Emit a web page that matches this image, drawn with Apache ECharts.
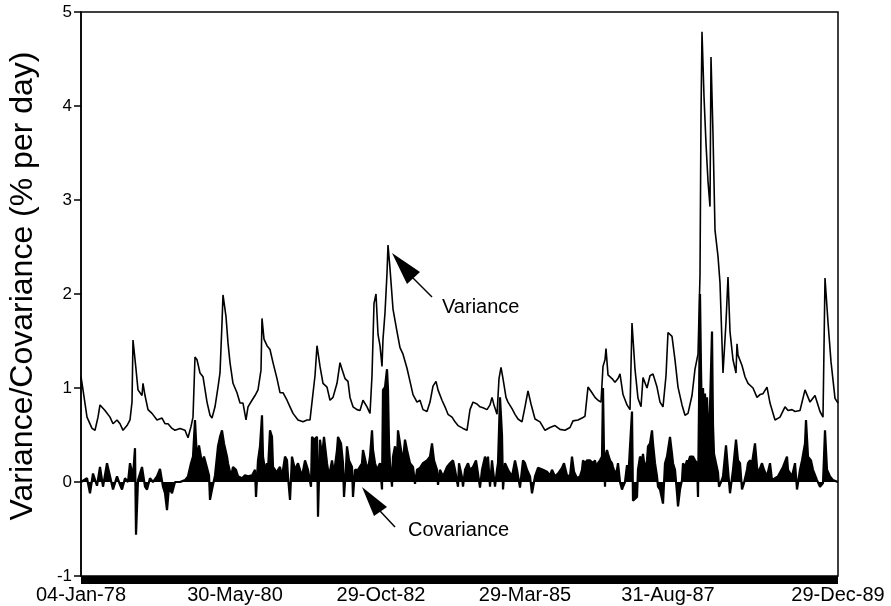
<!DOCTYPE html>
<html>
<head>
<meta charset="utf-8">
<script src="https://cdn.jsdelivr.net/npm/echarts@6/dist/echarts.min.js"></script>
<style>
  html, body { margin: 0; padding: 0; background: #fff; }
  #chart { width: 891px; height: 606px; }
</style>
</head>
<body>
<div id="chart"></div>
<script>
// x values are trading-day counts from 04-Jan-78
var tickDays = [0, 616, 1200, 1776, 2348, 3028];
var tickLabels = ['04-Jan-78', '30-May-80', '29-Oct-82', '29-Mar-85', '31-Aug-87', '29-Dec-89'];

var varianceDays = [0, 8, 24, 44, 56, 68, 76, 96, 116, 128, 144, 156, 168, 184, 196, 204, 208, 220, 228, 244, 248, 256, 268, 284, 304, 324, 336, 348, 364, 376, 396, 416, 428, 440, 448, 456, 464, 476, 488, 504, 516, 524, 536, 548, 556, 564, 568, 580, 588, 596, 608, 624, 636, 648, 660, 668, 684, 696, 708, 720, 724, 732, 744, 756, 768, 784, 796, 808, 824, 836, 848, 868, 888, 904, 916, 924, 936, 944, 956, 968, 984, 996, 1008, 1024, 1036, 1044, 1056, 1068, 1076, 1088, 1104, 1116, 1128, 1144, 1156, 1164, 1172, 1180, 1188, 1196, 1204, 1208, 1216, 1224, 1228, 1236, 1248, 1264, 1276, 1288, 1304, 1316, 1328, 1344, 1356, 1368, 1384, 1396, 1408, 1420, 1428, 1444, 1456, 1468, 1484, 1496, 1508, 1528, 1544, 1556, 1568, 1584, 1596, 1608, 1624, 1636, 1644, 1652, 1664, 1672, 1680, 1688, 1700, 1708, 1724, 1736, 1748, 1764, 1776, 1788, 1800, 1816, 1836, 1856, 1876, 1896, 1916, 1936, 1956, 1968, 1988, 2004, 2016, 2028, 2044, 2056, 2068, 2080, 2088, 2096, 2100, 2108, 2124, 2136, 2148, 2156, 2168, 2184, 2196, 2204, 2216, 2228, 2240, 2248, 2264, 2276, 2288, 2304, 2316, 2328, 2340, 2348, 2364, 2376, 2388, 2404, 2416, 2428, 2444, 2456, 2468, 2476, 2480, 2484, 2492, 2500, 2508, 2516, 2520, 2528, 2536, 2548, 2556, 2568, 2580, 2588, 2596, 2608, 2620, 2624, 2628, 2644, 2656, 2668, 2688, 2704, 2716, 2728, 2744, 2756, 2776, 2796, 2816, 2828, 2844, 2856, 2876, 2896, 2916, 2936, 2956, 2968, 2976, 2988, 3000, 3016, 3028];
var varianceValues = [1.12, 0.98, 0.69, 0.57, 0.55, 0.69, 0.82, 0.76, 0.69, 0.62, 0.66, 0.62, 0.55, 0.60, 0.66, 0.85, 1.51, 1.20, 0.98, 0.92, 1.05, 0.92, 0.77, 0.73, 0.66, 0.68, 0.62, 0.62, 0.57, 0.55, 0.57, 0.55, 0.47, 0.59, 0.69, 1.33, 1.30, 1.16, 1.12, 0.85, 0.71, 0.68, 0.80, 1.01, 1.16, 1.69, 1.99, 1.76, 1.48, 1.27, 1.05, 0.95, 0.84, 0.84, 0.66, 0.80, 0.87, 0.92, 0.98, 1.19, 1.74, 1.52, 1.45, 1.41, 1.27, 1.10, 0.95, 0.95, 0.87, 0.80, 0.73, 0.66, 0.64, 0.66, 0.66, 0.85, 1.13, 1.45, 1.23, 1.05, 1.01, 0.87, 0.90, 1.05, 1.27, 1.20, 1.10, 1.07, 0.90, 0.80, 0.77, 0.76, 0.87, 0.80, 0.73, 1.13, 1.90, 2.00, 1.57, 1.45, 1.23, 1.52, 1.80, 2.22, 2.52, 2.27, 1.84, 1.60, 1.43, 1.36, 1.21, 1.07, 0.93, 0.85, 0.87, 0.77, 0.75, 0.85, 1.02, 1.07, 0.98, 0.87, 0.80, 0.72, 0.69, 0.64, 0.60, 0.57, 0.55, 0.77, 0.85, 0.83, 0.80, 0.79, 0.77, 0.82, 0.90, 0.82, 0.72, 1.10, 1.22, 1.10, 0.90, 0.85, 0.78, 0.72, 0.67, 0.64, 0.80, 0.97, 0.83, 0.67, 0.64, 0.55, 0.58, 0.60, 0.56, 0.55, 0.58, 0.65, 0.66, 0.68, 0.70, 1.01, 0.95, 0.90, 0.87, 0.85, 1.23, 1.30, 1.42, 1.14, 1.10, 1.06, 1.10, 1.15, 0.93, 0.82, 0.77, 1.69, 1.20, 0.89, 0.80, 1.11, 1.00, 1.13, 1.15, 1.01, 0.85, 0.80, 1.13, 1.59, 1.55, 1.30, 1.01, 0.82, 0.71, 0.73, 0.92, 1.20, 1.36, 2.20, 3.90, 4.79, 4.10, 3.60, 3.20, 2.93, 4.52, 3.70, 2.68, 2.40, 2.12, 1.16, 1.70, 2.18, 1.60, 1.30, 1.16, 1.47, 1.35, 1.24, 1.12, 1.05, 1.00, 0.90, 0.93, 0.94, 1.01, 0.84, 0.66, 0.69, 0.80, 0.76, 0.77, 0.75, 0.76, 0.98, 0.85, 0.92, 0.75, 0.69, 2.17, 1.70, 1.28, 0.89, 0.84];

var covarianceDays = [0, 8, 24, 36, 48, 64, 76, 88, 104, 116, 128, 144, 156, 164, 176, 188, 196, 208, 216, 220, 228, 244, 256, 264, 276, 288, 304, 316, 328, 336, 344, 352, 364, 376, 396, 416, 428, 440, 448, 456, 464, 472, 484, 492, 504, 512, 516, 524, 536, 548, 556, 564, 572, 584, 588, 600, 608, 620, 628, 644, 656, 668, 684, 696, 700, 708, 716, 724, 728, 736, 744, 748, 756, 764, 768, 776, 784, 788, 796, 804, 816, 824, 828, 836, 844, 856, 868, 884, 896, 908, 920, 924, 932, 944, 948, 956, 964, 972, 984, 992, 1004, 1012, 1024, 1028, 1040, 1048, 1052, 1060, 1064, 1072, 1084, 1088, 1096, 1108, 1124, 1128, 1140, 1148, 1156, 1164, 1168, 1176, 1184, 1196, 1204, 1208, 1216, 1224, 1228, 1232, 1236, 1244, 1248, 1256, 1264, 1268, 1276, 1284, 1288, 1296, 1304, 1316, 1328, 1336, 1344, 1356, 1368, 1384, 1396, 1404, 1412, 1424, 1428, 1436, 1448, 1464, 1476, 1488, 1496, 1508, 1512, 1524, 1528, 1536, 1548, 1556, 1568, 1580, 1588, 1596, 1604, 1616, 1624, 1628, 1636, 1644, 1648, 1656, 1664, 1668, 1676, 1684, 1688, 1696, 1708, 1724, 1736, 1744, 1756, 1768, 1776, 1784, 1796, 1804, 1816, 1828, 1836, 1848, 1864, 1876, 1884, 1896, 1908, 1924, 1932, 1944, 1956, 1964, 1972, 1984, 1996, 2004, 2008, 2016, 2024, 2036, 2048, 2056, 2064, 2068, 2076, 2084, 2088, 2092, 2096, 2100, 2104, 2108, 2116, 2124, 2128, 2136, 2144, 2148, 2156, 2164, 2168, 2176, 2184, 2188, 2196, 2204, 2208, 2216, 2224, 2228, 2236, 2244, 2248, 2256, 2264, 2268, 2276, 2284, 2288, 2296, 2304, 2308, 2316, 2328, 2336, 2344, 2348, 2356, 2364, 2368, 2376, 2384, 2388, 2396, 2404, 2408, 2416, 2424, 2428, 2436, 2448, 2456, 2464, 2468, 2472, 2476, 2480, 2484, 2488, 2492, 2496, 2500, 2504, 2508, 2512, 2516, 2524, 2528, 2532, 2540, 2548, 2552, 2560, 2568, 2580, 2588, 2596, 2608, 2620, 2628, 2636, 2644, 2652, 2664, 2668, 2676, 2684, 2696, 2704, 2708, 2724, 2732, 2744, 2756, 2764, 2776, 2788, 2808, 2824, 2828, 2844, 2856, 2864, 2876, 2884, 2896, 2900, 2908, 2920, 2928, 2944, 2956, 2968, 2976, 2984, 2996, 3008, 3028];
var covarianceValues = [0, 0, 0.04, -0.12, 0.09, -0.04, 0.16, -0.05, 0.20, 0.06, -0.08, 0.06, -0.03, -0.08, 0.04, 0, 0.20, 0.06, 0.36, -0.56, 0.02, 0.16, -0.05, -0.08, 0.04, 0, 0.06, 0.14, -0.05, -0.12, -0.30, -0.05, -0.12, 0, 0, 0.02, 0.06, 0.20, 0.27, 0.66, 0.23, 0.39, 0.20, 0.27, 0.15, 0.07, -0.19, -0.08, 0.07, 0.38, 0.48, 0.55, 0.41, 0.27, 0.20, 0.06, 0.16, 0.13, 0.06, 0.04, 0.07, 0.06, 0.07, 0.13, -0.16, 0.23, 0.38, 0.71, 0.27, 0.13, 0.20, 0.13, 0.55, 0.48, 0.16, 0.13, 0.09, 0.13, 0.16, 0.06, 0.27, 0.23, 0.06, -0.19, 0.27, 0.13, 0.20, 0.06, 0.23, 0.13, -0.05, 0.48, 0.45, 0.48, -0.37, 0.45, 0.27, 0.48, 0.20, 0.06, 0.23, 0.09, 0.34, 0.48, 0.41, 0.20, -0.16, 0.16, 0.38, 0.23, 0.16, -0.16, 0.13, 0.13, 0.20, 0.34, 0.20, 0.13, 0.27, 0.55, 0.34, 0.20, 0.13, 0.20, -0.08, 0.98, 1.01, 1.20, 0.98, 0.41, 0.20, -0.05, 0.27, 0.38, 0.23, 0.55, 0.41, 0.27, 0.23, 0.45, 0.34, 0.20, 0.16, -0.02, 0.13, 0.15, 0.20, 0.23, 0.27, 0.41, 0.23, 0.13, -0.03, 0.13, 0.06, 0.16, 0.20, 0.23, 0.13, -0.05, 0.20, 0.05, -0.05, 0.13, 0.20, 0.13, 0.16, 0.23, 0.09, -0.06, 0.13, 0.27, 0.20, 0.27, -0.05, 0.23, 0.13, -0.05, 0.13, 0.20, 0.90, 0.50, -0.08, 0.20, 0.13, 0.06, 0.23, 0.13, -0.06, 0.23, 0.20, 0.13, 0.06, -0.12, 0.06, 0.15, 0.13, 0.13, 0.11, 0.07, 0.13, 0.06, 0.09, 0.15, 0.20, 0.07, 0.06, 0.27, 0.11, 0.04, 0.06, 0.13, 0.23, 0.20, 0.23, 0.23, 0.20, 0.23, 0.13, 0.20, 0.23, 0.27, 1.00, 0.30, -0.05, 0.30, 0.34, 0.30, 0.23, 0.20, 0.16, 0.09, 0.13, 0.20, 0, -0.08, -0.05, 0, 0.18, 0, 0, 0.75, -0.20, -0.19, -0.16, 0.13, 0.27, 0.23, 0.30, 0.13, 0.23, 0.38, 0.41, 0.55, 0.41, 0.20, 0.06, -0.05, -0.08, -0.23, 0.20, 0.27, 0.34, 0.48, 0.30, 0.20, 0.13, -0.12, -0.26, -0.08, 0.02, 0.20, 0.16, 0.23, 0.20, 0.27, 0.27, 0.23, 0.20, -0.16, 0.80, 2.00, 1.20, 0.60, 1.00, 0.70, 0.94, 0.50, 0.90, 0.60, 0.40, 0.80, 1.60, 0.60, 0.30, 0.20, 0.10, -0.05, 0, 0.06, 0.39, 0.13, -0.12, 0.13, 0.45, 0.23, 0.20, -0.08, -0.01, 0.13, 0.20, 0.23, 0.20, 0.41, 0.16, 0.09, 0.20, 0.13, 0.06, 0.20, 0.02, 0.04, 0.06, 0.16, 0.27, 0.13, 0.06, 0.20, -0.08, 0.13, 0.23, 0.41, 0.66, 0.27, 0.23, 0.13, 0.02, -0.05, -0.01, 0.55, 0.13, 0.06, 0.02, 0];

function zip(xs, ys) {
  var out = [];
  for (var i = 0; i < xs.length; i++) out.push([xs[i], ys[i]]);
  return out;
}

var font = 'Liberation Sans, Arial, Helvetica, sans-serif';
var chart = echarts.init(document.getElementById('chart'));
chart.setOption({
  animation: false,
  backgroundColor: '#fff',
  grid: {
    left: 81, right: 53, top: 12, bottom: 30,
    outerBoundsMode: 'none',
    containLabel: false,
    show: true, borderColor: '#000', borderWidth: 1.5, backgroundColor: 'transparent'
  },
  xAxis: {
    type: 'value',
    min: 0,
    max: 3028,
    offset: 4,
    axisLine: { onZero: false, lineStyle: { color: '#000', width: 8, cap: 'butt' } },
    axisTick: { show: false },
    splitLine: { show: false },
    axisLabel: {
      customValues: tickDays,
      margin: 5,
      color: '#000',
      fontFamily: font,
      fontSize: 20,
      formatter: function (v) {
        var i = tickDays.indexOf(v);
        return i >= 0 ? tickLabels[i] : '';
      }
    }
  },
  yAxis: {
    type: 'value',
    min: -1,
    max: 5,
    interval: 1,
    name: 'Variance/Covariance (% per day)',
    nameLocation: 'middle',
    nameGap: 42,
    nameTextStyle: { color: '#000', fontFamily: font, fontSize: 32, padding: [0, 0, 0, 16] },
    axisLine: { show: true, onZero: false, lineStyle: { color: '#000', width: 1.5 } },
    axisTick: { show: true, length: 7, lineStyle: { color: '#000', width: 1.5 } },
    splitLine: { show: false },
    axisLabel: { color: '#000', fontFamily: font, fontSize: 17, margin: 9 }
  },
  series: [
    {
      name: 'Covariance',
      type: 'line',
      data: zip(covarianceDays, covarianceValues),
      showSymbol: false,
      symbol: 'none',
      lineStyle: { color: '#000', width: 2.2 },
      areaStyle: { color: '#000', opacity: 1 },
      z: 2
    },
    {
      name: 'Variance',
      type: 'line',
      data: zip(varianceDays, varianceValues),
      showSymbol: false,
      symbol: 'none',
      lineStyle: { color: '#000', width: 1.6 },
      z: 3
    }
  ],
  graphic: [
    { type: 'polygon', shape: { points: [[392, 253], [420, 272], [407, 284]] }, style: { fill: '#000' } },
    { type: 'line', shape: { x1: 413, y1: 278, x2: 432, y2: 297 }, style: { stroke: '#000', lineWidth: 1.5 } },
    { type: 'text', x: 442, y: 307, style: { text: 'Variance', font: '20px ' + font, fill: '#000', verticalAlign: 'middle' } },
    { type: 'polygon', shape: { points: [[362, 487], [387, 507], [374, 516]] }, style: { fill: '#000' } },
    { type: 'line', shape: { x1: 380, y1: 511, x2: 395, y2: 527 }, style: { stroke: '#000', lineWidth: 1.5 } },
    { type: 'text', x: 408, y: 530, style: { text: 'Covariance', font: '20px ' + font, fill: '#000', verticalAlign: 'middle' } }
  ]
});
</script>
</body>
</html>
